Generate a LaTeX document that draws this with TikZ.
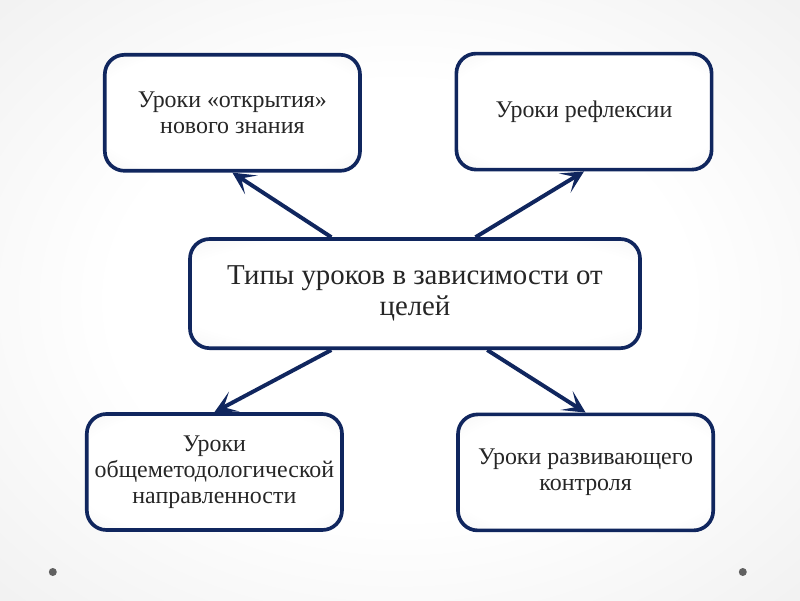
\documentclass[tikz,border=0pt]{standalone}
\usepackage{fontspec}
\setmainfont{Liberation Serif}
\usetikzlibrary{arrows.meta}
\definecolor{boxblue}{RGB}{16,38,94}
\definecolor{textgray}{RGB}{38,38,38}
\pgfdeclareradialshading{bgshade}{\pgfpoint{0bp}{0bp}}{color(0bp)=(white); color(18bp)=(white); color(71bp)=(black!16)}
\pgfdeclareradialshading{boxshade}{\pgfpoint{0bp}{0bp}}{color(0bp)=(white); color(28bp)=(white); color(50bp)=(black!10); color(71bp)=(black!18)}
\begin{document}
\begin{tikzpicture}[
    lessonbox/.style={rectangle, draw=boxblue, line width=2.6pt, shading=boxshade, rounded corners=14pt, minimum width=6.38cm, minimum height=2.9cm, align=center, text=textgray, font=\fontsize{17}{18.5}\selectfont},
    mainbox/.style={lessonbox, minimum width=11.25cm, minimum height=2.73cm, font=\fontsize{20.5}{22}\selectfont},
    arr/.style={-{Stealth[length=16pt, width=16pt, inset=8.5pt]}, line width=2.8pt, draw=boxblue}
]
\shade[shading=bgshade] (0,0) rectangle (20,15);
\fill[black!62] (1.32,0.7) circle (0.1);
\fill[black!62] (18.57,0.7) circle (0.1);

\node[mainbox] (goals) at (10.375, 7.66) {Типы уроков в зависимости от\\целей};
\node[lessonbox] (discovery) at (5.81, 12.18) {Уроки «открытия»\\нового знания};
\node[lessonbox] (reflection) at (14.6, 12.21) {Уроки рефлексии};
\node[lessonbox] (general) at (5.36, 3.2) {Уроки\\общеметодологической\\направленности};
\node[lessonbox] (control) at (14.64, 3.19) {Уроки развивающего\\контроля};

\draw[arr] (goals.146) -- (discovery.south);
\draw[arr] (goals.43) -- (reflection.south);
\draw[arr] (goals.214) -- (general.north);
\draw[arr] (goals.322) -- (control.north);
\end{tikzpicture}
\end{document}
